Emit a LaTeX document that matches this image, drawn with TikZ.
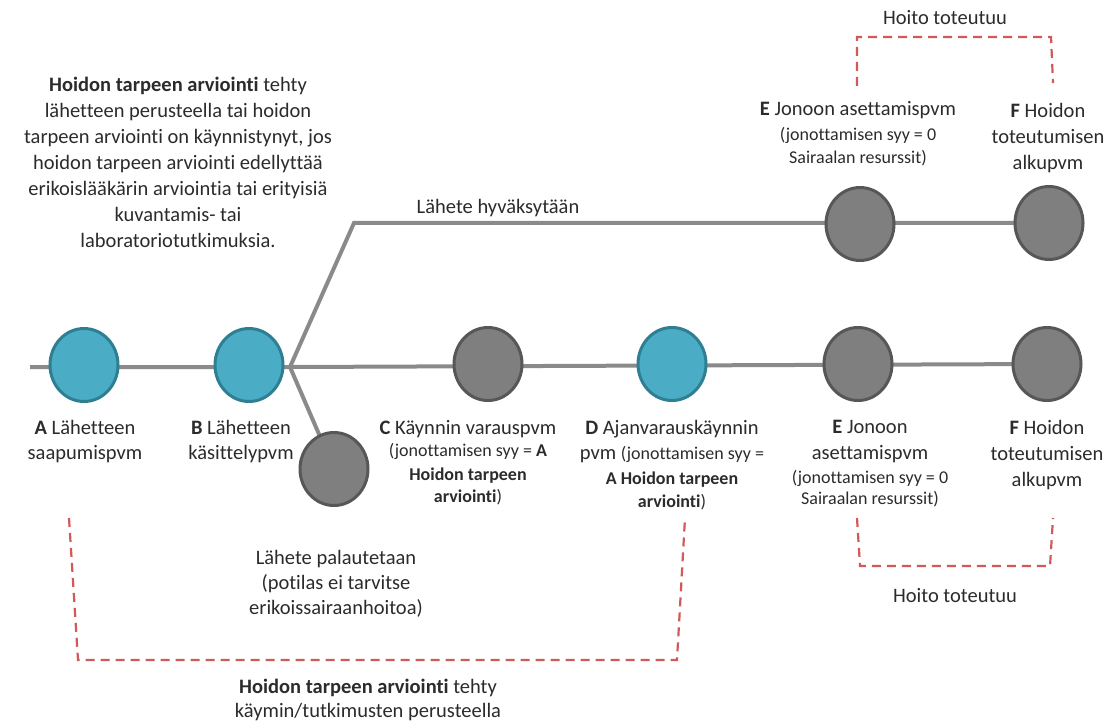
\documentclass[tikz,border=0pt]{standalone}
\usepackage{fontspec}
\setmainfont{Carlito}[Ligatures={NoCommon,NoRare,NoContextual}]
\usetikzlibrary{shapes.geometric,backgrounds}

\definecolor{tealfill}{HTML}{4BACC6}
\definecolor{tealedge}{HTML}{2F7F92}
\definecolor{grayfill}{HTML}{7F7F7F}
\definecolor{grayedge}{HTML}{575757}
\definecolor{track}{HTML}{8A8A8A}
\definecolor{bracket}{HTML}{D05A5A}
\definecolor{ink}{HTML}{2B2B2B}

\newcommand\bigf{\fontsize{20.5}{26}\selectfont}
\newcommand\smallf{\fontsize{18}{22}\selectfont}

\tikzset{
  event/.style={ellipse, minimum width=68pt, minimum height=73pt, inner sep=0pt, line width=3pt},
  blueevent/.style={event, fill=tealfill, draw=tealedge},
  grayevent/.style={event, fill=grayfill, draw=grayedge},
  trackline/.style={draw=track, line width=4pt},
  bracketline/.style={draw=bracket, line width=2.2pt, dash pattern=on 9pt off 6pt},
  lbl/.style={font=\bigf, text=ink, align=center, inner sep=0pt, anchor=north},
}

\begin{document}
\begin{tikzpicture}[x=1pt, y=-1pt]
\useasboundingbox (0,0) rectangle (1108,722);

% timeline events
\node[blueevent] (A) at (84,365) {};
\node[blueevent] (B) at (249,365) {};
\node[grayevent] (C) at (488,364) {};
\node[blueevent] (D) at (672,364) {};
\node[grayevent] (E) at (858,364) {};
\node[grayevent] (F) at (1047,364) {};
\node[grayevent] (E2) at (860,224) {};
\node[grayevent] (F2) at (1049,223) {};
\node[grayevent] (R) at (334,469) {};

% track lines behind the events
\coordinate (start) at (30,367);
\coordinate (fork) at (290,367);
\coordinate (bend) at (354,223);
\begin{pgfonlayer}{background}
  \draw[trackline] (start) -- (fork) -- (F.center);
  \draw[trackline] (fork) -- (bend) -- (F2.center);
  \draw[trackline] (fork) -- (R.center);
\end{pgfonlayer}

% dashed brackets
\coordinate (p1) at (69,518);
\coordinate (p2) at (78,660);
\coordinate (p3) at (677,660);
\coordinate (p4) at (685,518);
\draw[bracketline] (p1) -- (p2) -- (p3) -- (p4);

\coordinate (t1) at (857,86);
\coordinate (t2) at (857,37);
\coordinate (t3) at (1051,37);
\coordinate (t4) at (1053,83);
\draw[bracketline] (t1) -- (t2) -- (t3) -- (t4);

\coordinate (b1) at (857,518);
\coordinate (b2) at (860,566);
\coordinate (b3) at (1050,566);
\coordinate (b4) at (1053,518);
\draw[bracketline] (b1) -- (b2) -- (b3) -- (b4);

% texts
\node[lbl] (intro) at (178,77) {{\bfseries Hoidon tarpeen arviointi} tehty\\
  lähetteen perusteella tai hoidon\\
  tarpeen arviointi on käynnistynyt, jos\\
  hoidon tarpeen arviointi edellyttää\\
  erikoislääkärin arviointia tai erityisiä\\
  kuvantamis- tai\\
  laboratoriotutkimuksia.};

\node[lbl, anchor=center] (acc) at (498,208) {Lähete hyväksytään};

\node[lbl] (lE2) at (858,101) {{\bfseries E} Jonoon asettamispvm\\[-1pt]
  {\smallf (jonottamisen syy = 0}\\[-3pt]
  {\smallf Sairaalan resurssit)}};
\node[lbl] (lF2) at (1048,103) {{\bfseries F} Hoidon\\ toteutumisen\\ alkupvm};

\node[lbl] (lA) at (85,420) {{\bfseries A} Lähetteen\\[-1pt] saapumispvm};
\node[lbl] (lB) at (241,420) {{\bfseries B} Lähetteen\\[-1pt] käsittelypvm};
\node[lbl] (lC) at (468,420) {{\bfseries C} Käynnin varauspvm\\[-4pt]
  {\smallf (jonottamisen syy = \textbf{A}}\\[-2pt]
  {\smallf\bfseries Hoidon tarpeen}\\[-4pt]
  {\smallf\bfseries arviointi}{\smallf )}};
\node[lbl] (lD) at (672,420) {{\bfseries D} Ajanvarauskäynnin\\[-1pt]
  pvm {\smallf (jonottamisen syy =}\\[-1pt]
  {\smallf\bfseries A Hoidon tarpeen}\\[-3pt]
  {\smallf\bfseries arviointi}{\smallf )}};
\node[lbl] (lE) at (870,420) {{\bfseries E} Jonoon\\ asettamispvm\\[-2pt]
  {\smallf (jonottamisen syy = 0}\\[-5pt]
  {\smallf Sairaalan resurssit)}};
\node[lbl] (lF) at (1047,420) {{\bfseries F} Hoidon\\ toteutumisen\\ alkupvm};

\node[lbl] (lR) at (336,550) {Lähete palautetaan\\[-1pt] (potilas ei tarvitse\\[-1pt] erikoissairaanhoitoa)};

\node[lbl, anchor=center] (done1) at (945,18) {Hoito toteutuu};
\node[lbl, anchor=center] (done2) at (955,596) {Hoito toteutuu};

\node[lbl] (outro) at (368,679) {{\bfseries Hoidon tarpeen arviointi} tehty\\[-2pt]
  käymin/tutkimusten perusteella};
\end{tikzpicture}
\end{document}
